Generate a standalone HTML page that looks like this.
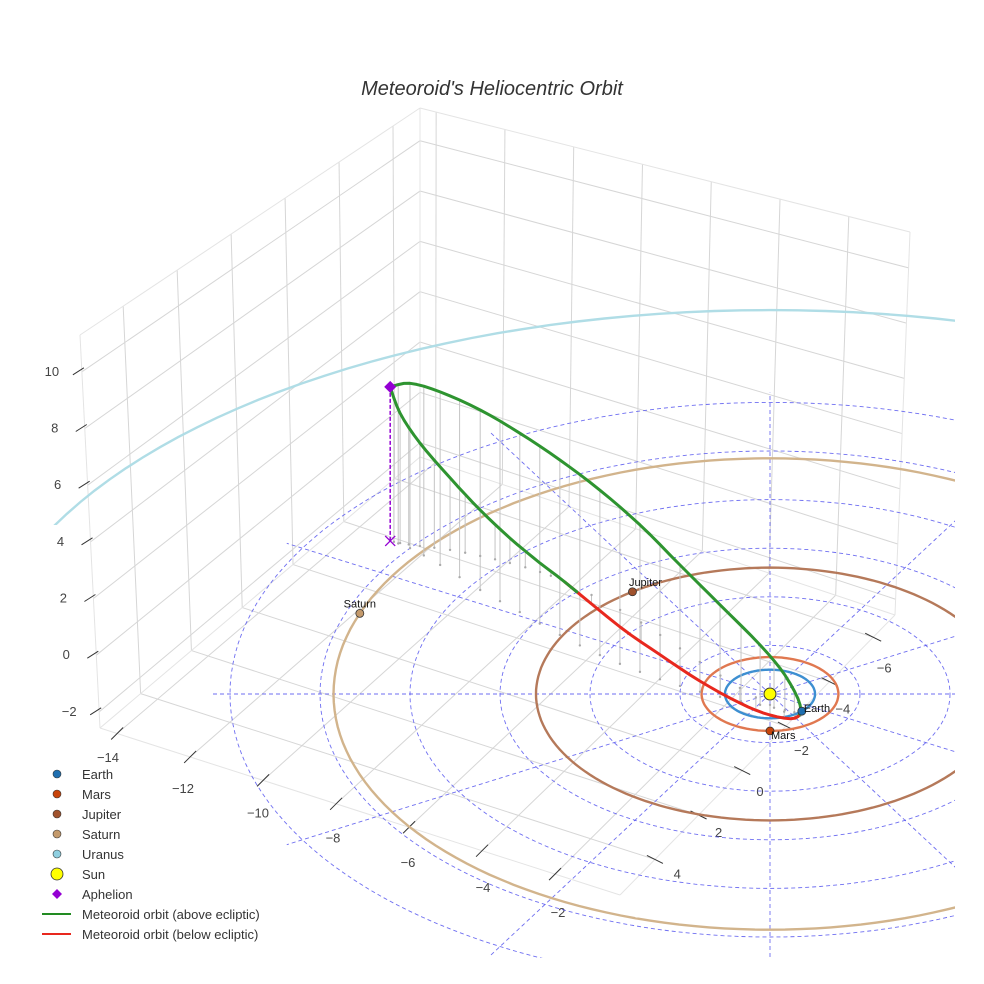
<!DOCTYPE html>
<html><head><meta charset="utf-8">
<style>
html,body{margin:0;padding:0;background:#fff;overflow:hidden;width:984px;height:984px;}
svg{display:block;font-family:"Liberation Sans",sans-serif;}
</style></head>
<body>
<svg id="chart" width="984" height="984" viewBox="0 0 984 984" xmlns="http://www.w3.org/2000/svg">
<defs><clipPath id="plotclip"><rect x="28" y="0" width="927" height="958"/></clipPath>
<clipPath id="farclip"><rect x="28" y="0" width="927" height="525"/></clipPath></defs>
<text x="492" y="95" text-anchor="middle" font-size="20" font-style="italic" fill="#333">Meteoroid's Heliocentric Orbit</text>
<g id="box"></g>
<g id="ticks"></g>
<g id="scene" clip-path="url(#plotclip)"></g>
<g id="legend"></g>
</svg>
<script>
// ---- data ----
var xTicks = [-14,-12,-10,-8,-6,-4,-2];
var yTicks = [4,2,0,-2,-4,-6];
var zTicks = [-2,0,2,4,6,8,10];
var planetNames = ["Earth","Mars","Jupiter","Saturn","Uranus"];
var planetRadius = [1.0,1.52,5.2,9.7,15.8];
var planetAngle = [45,90,234,200,null];
var ringRadii = [2,4,6,8,10,12];
var radialAngles = [0,30,60,90,120,150,180,210,240,270,300,330];
var orbitU = [-8.44,-8.0,-7.33,-6.44,-5.56,-4.67,-3.78,-2.89,-2.0,-1.11,-0.22,0.33,0.67,0.56,0,-0.67,-1.56,-2.44,-3.33,-4.56,-5.11,-5.78,-6.44,-7.11,-7.78,-8.22,-8.44];
var orbitV = [-6.3,-6.0,-5.31,-4.28,-3.37,-2.43,-1.6,-0.91,-0.33,0.12,0.45,0.66,0.82,0.91,0.45,-0.25,-1.32,-2.43,-3.46,-4.61,-5.02,-5.39,-5.68,-5.93,-6.09,-6.21,-6.3];
var orbitZ = [5.5,5.89,6.18,6.43,6.39,6.25,5.89,5.25,4.32,3.29,2.14,1.25,0.32,-0.07,-0.36,-0.54,-0.68,-0.71,-0.61,0,0.32,0.89,1.64,2.57,3.68,4.64,5.5];
var aphelionIndex = 0;

// ---- projection ----
var NS="http://www.w3.org/2000/svg";
function P(u,v,z){return [770+45*u, 694+24.3*v-28*z];}
function polar(r,deg){var a=deg*Math.PI/180;return [r*Math.cos(a), r*Math.sin(a)];}
var XMIN=-14.47,XMAX=-0.22,YMAX=5.6,YMIN=-7.0,ZMIN=-2.57,ZMAX=11.3;
var Ab=[100,728],Bb=[420,457],Cb=[895,615],Db=[620,895];
var At=[80,335],Bt=[420,108],Ct=[910,232];
function lerp(a,b,t){return [a[0]+(b[0]-a[0])*t,a[1]+(b[1]-a[1])*t];}
function floorPt(x,y){var s=(x-XMIN)/(XMAX-XMIN),t=(YMAX-y)/(YMAX-YMIN);return lerp(lerp(Ab,Db,s),lerp(Bb,Cb,s),t);}
function leftWall(y,z){var t=(YMAX-y)/(YMAX-YMIN),h=(z-ZMIN)/(ZMAX-ZMIN);return lerp(lerp(Ab,Bb,t),lerp(At,Bt,t),h);}
function backWall(x,z){var s=(x-XMIN)/(XMAX-XMIN),h=(z-ZMIN)/(ZMAX-ZMIN);return lerp(lerp(Bb,Cb,s),lerp(Bt,Ct,s),h);}

function mk(tag,attrs,parent){var e=document.createElementNS(NS,tag);for(var k in attrs)e.setAttribute(k,attrs[k]);parent.appendChild(e);return e;}
function line(p,q,st,parent,w,dash){var e=mk("line",{x1:p[0],y1:p[1],x2:q[0],y2:q[1],stroke:st,"stroke-width":w||1},parent);if(dash)e.setAttribute("stroke-dasharray",dash);return e;}

var box=document.getElementById("box");
var gc="#d6d6d6";
xTicks.concat([0]).forEach(function(x){if(x>XMAX)return;var e=line(floorPt(x,YMAX),floorPt(x,YMIN),gc,box);

});
yTicks.forEach(function(y){var e=line(floorPt(XMIN,y),floorPt(XMAX,y),gc,box);

});
zTicks.forEach(function(z){var e=line(leftWall(YMAX,z),leftWall(YMIN,z),gc,box);

});
yTicks.forEach(function(y){var e=line(leftWall(y,ZMIN),leftWall(y,ZMAX),gc,box);

});
zTicks.forEach(function(z){var e=line(backWall(XMIN,z),backWall(XMAX,z),gc,box);

});
xTicks.forEach(function(x){var e=line(backWall(x,ZMIN),backWall(x,ZMAX),gc,box);

});
[[At,Bt],[Bt,Ct],[At,Ab],[Bt,Bb],[Ct,Cb],[Ab,Bb],[Bb,Cb],[Ab,Db],[Db,Cb]].forEach(function(pq){var e=line(pq[0],pq[1],"#e4e4e4",box);

});

var tk=document.getElementById("ticks");
function txt(x,y,s,parent,size,anchor,fill){var e=mk("text",{x:x,y:y,"font-size":size||12,"text-anchor":anchor||"middle",fill:fill||"#444"},parent);e.textContent=s;return e;}
function fmt(v){return v<0?"\u2212"+(-v):""+v;}
zTicks.forEach(function(z){var p=leftWall(YMAX,z);var e=line([p[0]+2,p[1]-4],[p[0]-9,p[1]+3],"#333",tk);


var t=txt(p[0]-30,p[1]+4,fmt(z),tk,13);

});
xTicks.forEach(function(x){var p=floorPt(x,YMAX);var e=line([p[0]-6,p[1]+6],[p[0]+6,p[1]-6],"#333",tk);


var t=txt(108+37.5*(x+14),762+12.4*(x+14)+(x>-14?6:0),fmt(x),tk,13);

});
yTicks.forEach(function(y){var p=floorPt(XMAX,y);var e=line([p[0]-8,p[1]-4],[p[0]+8,p[1]+4],"#333",tk);


var t=txt(760-20.7*y,796+20.6*y,fmt(y),tk,13);

});

// scene
var sc=document.getElementById("scene");
function ellipsePath(r,sx){var d="";for(var a=0;a<=360;a+=2){var q=polar(r,a),p=P(q[0]*(sx||1),q[1],0);d+=(a?"L":"M")+p[0].toFixed(1)+","+p[1].toFixed(1);}return d+"Z";}
ringRadii.forEach(function(r){var e=mk("path",{d:ellipsePath(r),fill:"none",stroke:"#5555ee","stroke-width":0.9,"stroke-dasharray":"4,3",opacity:0.85},sc);

});
radialAngles.forEach(function(a){var q=polar(12.4,a);var e=line(P(0,0,0),P(q[0],q[1],0),"#5555ee",sc,0.9,"4,3");e.setAttribute("opacity",0.85);

});
var orbitCols=["#3d8fd1","#e07850","#b5795a","#d2b48c","#b0dde6"];
var markCols=["#1f6fb0","#c8440a","#a0522d","#c49a6c","#8fcfe0"];
var perspectiveStretch=[1,1,1,1,1.12];
planetRadius.forEach(function(r,i){var e=mk("path",{d:ellipsePath(r,perspectiveStretch[i]),fill:"none",stroke:orbitCols[i],"stroke-width":2.4},sc);
if(i===4)e.setAttribute("clip-path","url(#farclip)");

});

var n=orbitU.length, sm=[];
function cr(a,b,c,d,t){return 0.5*((2*b)+(-a+c)*t+(2*a-5*b+4*c-d)*t*t+(-a+3*b-3*c+d)*t*t*t);}
function at(arr,i){if(i<0)i=0;if(i>n-1)i=n-1;return arr[i];}
var STEPS=4;
for(var i=0;i<n-1;i++){for(var s=0;s<STEPS;s++){var t=s/STEPS;
sm.push([cr(at(orbitU,i-1),orbitU[i],orbitU[i+1],at(orbitU,i+2),t),cr(at(orbitV,i-1),orbitV[i],orbitV[i+1],at(orbitV,i+2),t),cr(at(orbitZ,i-1),orbitZ[i],orbitZ[i+1],at(orbitZ,i+2),t)]);}}
sm.push([orbitU[n-1],orbitV[n-1],orbitZ[n-1]]);
for(var k=2;k<sm.length-2;k+=2){var q=sm[k];var p=P(q[0],q[1],q[2]),g=P(q[0],q[1],0);
var e=line(p,g,"#c4c4c4",sc,1);


var c=mk("circle",{cx:g[0],cy:g[1],r:1.2,fill:"#aaa"},sc);

}
var ap=P(orbitU[aphelionIndex],orbitV[aphelionIndex],orbitZ[aphelionIndex]),ag=P(orbitU[aphelionIndex],orbitV[aphelionIndex],0);
var al=line(ap,ag,"#9400d3",sc,1.5,"4,2");


var ax=mk("path",{d:"M"+(ag[0]-5)+","+(ag[1]-5)+"L"+(ag[0]+5)+","+(ag[1]+5)+"M"+(ag[0]-5)+","+(ag[1]+5)+"L"+(ag[0]+5)+","+(ag[1]-5),stroke:"#9400d3","stroke-width":1.3,fill:"none"},sc);


var seg=null,segSign=null;
function flush(){if(seg&&seg.length>1){var e=mk("polyline",{points:seg.map(function(p){return p[0].toFixed(1)+","+p[1].toFixed(1);}).join(" "),fill:"none",stroke:segSign?"#2e9430":"#e8281e","stroke-width":3,"stroke-linejoin":"round","stroke-linecap":"round"},sc);

}}
for(var k=0;k<sm.length;k++){var q=sm[k];var s=q[2]>=-0.02;var p=P(q[0],q[1],q[2]);
if(seg===null){seg=[p];segSign=s;}else if(s===segSign){seg.push(p);}else{seg.push(p);flush();seg=[seg[seg.length-2],p];segSign=s;}}
flush();
var sp=P(0,0,0);
var sun=mk("circle",{cx:sp[0],cy:sp[1],r:6,fill:"#ffff00",stroke:"#333","stroke-width":1},sc);


var lblOff=[[2,1,"start"],[1,8,"start"],[13,-6,"middle"],[0,-6,"middle"]];
planetAngle.forEach(function(a,i){if(a===null)return;var q=polar(planetRadius[i],a),p=P(q[0],q[1],0);
var c=mk("circle",{cx:p[0],cy:p[1],r:4,fill:markCols[i],stroke:"#333","stroke-width":0.8},sc);


var t=txt(p[0]+lblOff[i][0],p[1]+lblOff[i][1],planetNames[i],sc,11,lblOff[i][2],"#111");

});
var dm=mk("path",{d:"M"+ap[0]+","+(ap[1]-6)+"L"+(ap[0]+6)+","+ap[1]+"L"+ap[0]+","+(ap[1]+6)+"L"+(ap[0]-6)+","+ap[1]+"Z",fill:"#9400d3"},sc);



var lg=document.getElementById("legend");
var legendLabels=["Earth","Mars","Jupiter","Saturn","Uranus","Sun","Aphelion","Meteoroid orbit (above ecliptic)","Meteoroid orbit (below ecliptic)"];
legendLabels.forEach(function(l,i){var y=774+20*i;
var g=mk("g",{},lg);


if(i<5){mk("circle",{cx:57,cy:y,r:4,fill:markCols[i],stroke:"#333","stroke-width":0.6},g);}
else if(i===5){mk("circle",{cx:57,cy:y,r:6,fill:"#ffff00",stroke:"#333","stroke-width":0.8},g);}
else if(i===6){mk("path",{d:"M57,"+(y-5)+"L62,"+y+"L57,"+(y+5)+"L52,"+y+"Z",fill:"#9400d3"},g);}
else{line([42,y],[71,y],i===7?"#228b22":"#e8281e",g,2);}
txt(82,y+5,l,g,13,"start","#333");});
</script>
</body></html>
